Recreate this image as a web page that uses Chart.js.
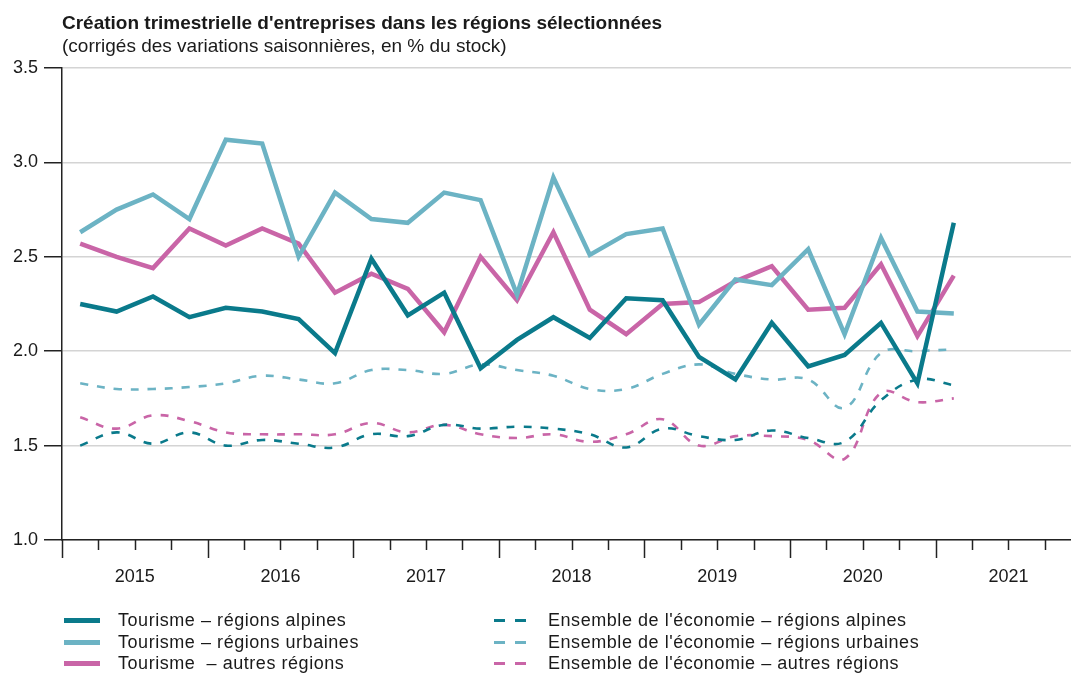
<!DOCTYPE html>
<html>
<head>
<meta charset="utf-8">
<script src="https://cdn.jsdelivr.net/npm/chart.js@4.4.1/dist/chart.umd.min.js"></script>
<style>
  body { margin: 0; background: #fff; overflow: hidden; font-family: "Liberation Sans", Arial, sans-serif; color: #1a1a1a; }
  #wrap { position: relative; width: 1071px; height: 673px; }
  #chart { position: absolute; left: 0; top: 0; }
  .title { position: absolute; left: 62px; top: 12px; font-size: 19px; font-weight: bold; }
  .subtitle { position: absolute; left: 62px; top: 35px; font-size: 19px; }
  .legend-item { position: absolute; height: 22px; line-height: 22px; font-size: 18px; letter-spacing: 0.55px; white-space: pre; }
</style>
</head>
<body>
<div id="wrap">
  <canvas id="chart" width="1071" height="673"></canvas>
  <div class="title">Création trimestrielle d'entreprises dans les régions sélectionnées</div>
  <div class="subtitle">(corrigés des variations saisonnières, en % du stock)</div>
  <div id="legend"></div>
</div>
<script>
// quarters 2015Q1 .. 2021Q1
const quarters = ["2015Q1", "2015Q2", "2015Q3", "2015Q4", "2016Q1", "2016Q2", "2016Q3", "2016Q4",
  "2017Q1", "2017Q2", "2017Q3", "2017Q4", "2018Q1", "2018Q2", "2018Q3", "2018Q4",
  "2019Q1", "2019Q2", "2019Q3", "2019Q4", "2020Q1", "2020Q2", "2020Q3", "2020Q4", "2021Q1"]
const years = ["2015", "2016", "2017", "2018", "2019", "2020", "2021"]
const yTicks = [1.0, 1.5, 2.0, 2.5, 3.0, 3.5]

const tourismeAlpines = [2.25, 2.21, 2.29, 2.18, 2.23, 2.21, 2.17, 1.99, 2.49, 2.19, 2.31, 1.91, 2.06,
  2.18, 2.07, 2.28, 2.27, 1.97, 1.85, 2.15, 1.92, 1.98, 2.15, 1.83, 2.68]
const tourismeUrbaines = [2.63, 2.75, 2.83, 2.70, 3.12, 3.10, 2.50, 2.84, 2.70, 2.68, 2.84, 2.80, 2.30,
  2.92, 2.51, 2.62, 2.65, 2.14, 2.38, 2.35, 2.54, 2.09, 2.60, 2.21, 2.20]
const tourismeAutres = [2.57, 2.50, 2.44, 2.65, 2.56, 2.65, 2.57, 2.31, 2.41, 2.33, 2.10, 2.50, 2.27,
  2.63, 2.22, 2.09, 2.25, 2.26, 2.37, 2.45, 2.22, 2.23, 2.46, 2.08, 2.40]
const ecoAlpines = [1.50, 1.57, 1.51, 1.57, 1.50, 1.53, 1.51, 1.49, 1.56, 1.55, 1.61, 1.59, 1.60,
  1.59, 1.56, 1.49, 1.59, 1.55, 1.53, 1.58, 1.54, 1.52, 1.74, 1.85, 1.82]
const ecoUrbaines = [1.83, 1.80, 1.80, 1.81, 1.83, 1.87, 1.85, 1.83, 1.90, 1.90, 1.88, 1.93, 1.90,
  1.87, 1.80, 1.80, 1.88, 1.93, 1.88, 1.85, 1.85, 1.70, 1.99, 2.00, 2.01]
const ecoAutres = [1.65, 1.59, 1.66, 1.63, 1.57, 1.56, 1.56, 1.56, 1.62, 1.57, 1.61, 1.56, 1.54,
  1.56, 1.52, 1.56, 1.64, 1.50, 1.55, 1.55, 1.53, 1.43, 1.78, 1.73, 1.75]

const dark = "#0a7a8b"
const light = "#6cb3c4"
const pink = "#c965a7"

// x is measured in quarters from the start of 2015; a point sits in the middle of its quarter
const toPoints = (values) => values.map((v, i) => ({ x: i + 0.5, y: v }))

function solid(label, values, color) {
  return { label, data: toPoints(values), borderColor: color, borderWidth: 4.5, pointRadius: 0, tension: 0, solid: true }
}
function dashed(label, values, color) {
  return { label, data: toPoints(values), borderColor: color, borderWidth: 2.6, borderDash: [8, 9], pointRadius: 0, tension: 0.4, solid: false }
}

const datasets = [
  solid("Tourisme – régions alpines", tourismeAlpines, dark),
  solid("Tourisme – régions urbaines", tourismeUrbaines, light),
  solid("Tourisme  – autres régions", tourismeAutres, pink),
  dashed("Ensemble de l'économie – régions alpines", ecoAlpines, dark),
  dashed("Ensemble de l'économie – régions urbaines", ecoUrbaines, light),
  dashed("Ensemble de l'économie – autres régions", ecoAutres, pink),
]

const quarterWidth = 36.4
const axisLeft = 62

const quarterTicks = {
  id: "quarterTicks",
  afterDraw(chart) {
    const { ctx, chartArea } = chart
    const x = chart.scales.x
    ctx.save()
    ctx.strokeStyle = "#222"
    ctx.lineWidth = 1.5
    for (let q = 0; q <= years.length * 4; q++) {
      const px = Math.round(x.getPixelForValue(q)) + 0.5
      if (px > chart.width) break
      const len = q % 4 === 0 ? 18 : 10
      ctx.beginPath()
      ctx.moveTo(px, chartArea.bottom)
      ctx.lineTo(px, chartArea.bottom + len)
      ctx.stroke()
    }
    ctx.restore()
  }
}

const chart = new Chart(document.getElementById("chart"), {
  type: "line",
  data: { datasets },
  options: {
    responsive: false,
    animation: false,
    layout: { padding: { top: 68, right: 0, left: 0, bottom: 0 } },
    plugins: { legend: { display: false }, tooltip: { enabled: false } },
    scales: {
      x: {
        type: "linear",
        min: 0,
        max: (1071 - axisLeft) / quarterWidth,
        afterBuildTicks: (scale) => { scale.ticks = years.map((_, k) => ({ value: 4 * k + 2 })) },
        afterFit: (scale) => { scale.height = 673 - 540 },
        ticks: {
          autoSkip: false,
          maxRotation: 0,
          padding: 26,
          color: "#1a1a1a",
          font: { family: "Liberation Sans", size: 18 },
          callback: (v, i) => years[i]
        },
        grid: { display: false, drawTicks: false },
        border: { display: true, color: "#222", width: 1.5 }
      },
      y: {
        min: 1.0,
        max: 3.5,
        afterBuildTicks: (scale) => { scale.ticks = yTicks.map((v) => ({ value: v })) },
        afterFit: (scale) => { scale.width = axisLeft },
        ticks: {
          padding: 6,
          color: "#1a1a1a",
          font: { family: "Liberation Sans", size: 18 },
          callback: (v) => v.toFixed(1)
        },
        grid: { color: "#d4d4d4", lineWidth: 1.5, tickLength: 18, tickColor: "#222", tickWidth: 1.5 },
        border: { display: true, color: "#222", width: 1.5 }
      }
    }
  },
  plugins: [quarterTicks]
})

// legend: tourism series in the left column, whole economy in the right
const legend = document.getElementById("legend")
chart.data.datasets.forEach((ds, i) => {
  const col = ds.solid ? 0 : 1
  const row = i % 3
  const top = 609 + row * 21.5
  const item = document.createElement("div")
  item.className = "legend-item"
  item.style.left = (col === 0 ? 118 : 548) + "px"
  item.style.top = top + "px"
  item.textContent = ds.label
  legend.appendChild(item)
  if (ds.solid) {
    const sw = document.createElement("div")
    sw.style.cssText = `position:absolute;left:64px;top:${top + 9}px;width:36px;height:5px;background:${ds.borderColor}`
    legend.appendChild(sw)
  } else {
    [494, 515].forEach((lx) => {
      const sw = document.createElement("div")
      sw.style.cssText = `position:absolute;left:${lx}px;top:${top + 10}px;width:11px;height:3px;background:${ds.borderColor}`
      legend.appendChild(sw)
    })
  }
})
</script>
</body>
</html>
